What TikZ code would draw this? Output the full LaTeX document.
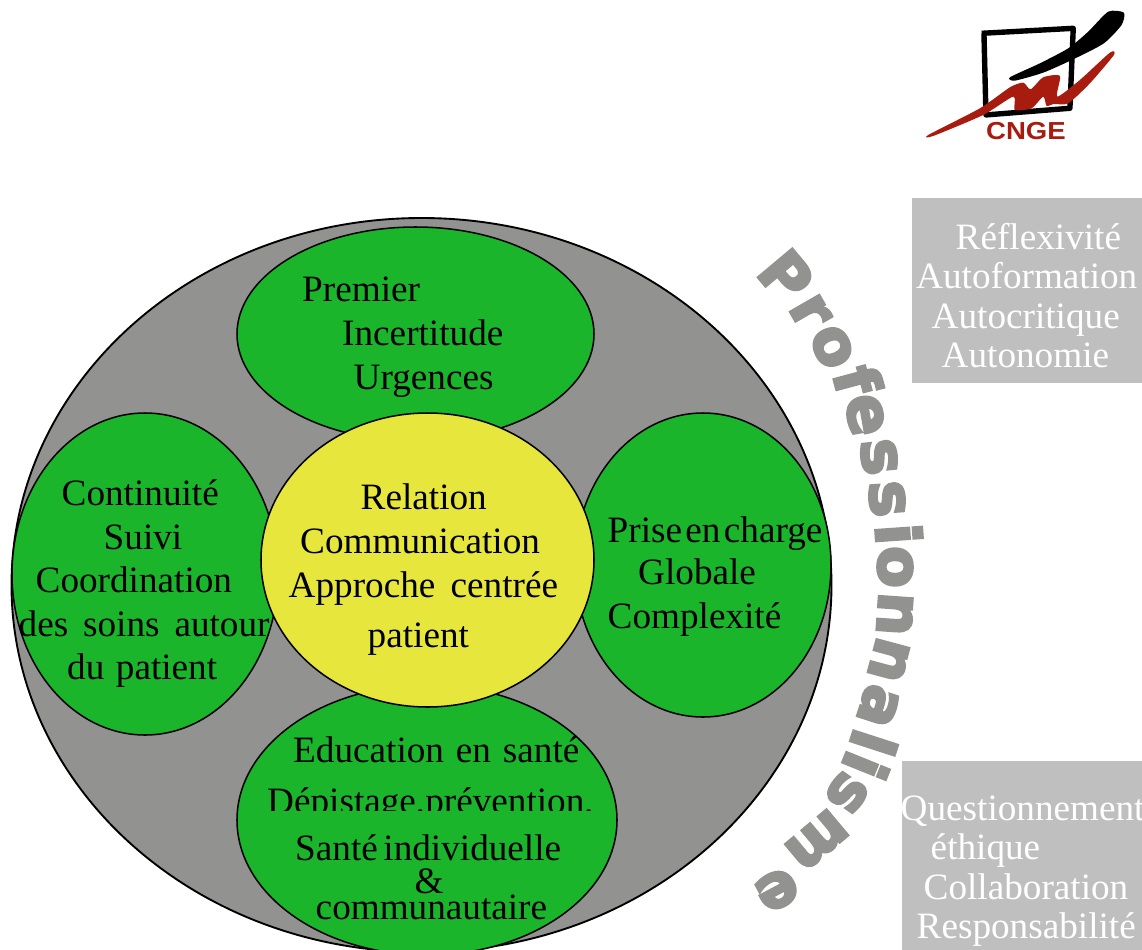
\documentclass[tikz,border=0pt]{standalone}
\usepackage{fontspec}
\setmainfont{Liberation Serif}
\newfontfamily\lettrefont{DejaVu Sans}[BoldFeatures={FakeBold=4.5}]
\newfontfamily\logofont{Liberation Sans}
\definecolor{fond}{HTML}{929290}
\definecolor{vert}{HTML}{1AB52B}
\definecolor{jaune}{HTML}{E6E63C}
\definecolor{boite}{HTML}{BFBFBF}
\definecolor{rouge}{HTML}{A81C10}
\tikzset{
  lbl/.style={anchor=base west,inner sep=0pt,font=\fontsize{31.75}{38}\selectfont},
  boxlbl/.style={lbl,text=white},
  lettre/.style={inner sep=0pt,text=fond,font=\lettrefont\bfseries\fontsize{52}{60}\selectfont},
  rond/.style={draw=black,line width=1.3pt}
}
\begin{document}
\begin{tikzpicture}[x=0.03cm,y=-0.03cm]
\useasboundingbox (0,0) rectangle (1142,950);
\clip (0,0) rectangle (1142,950);
% grand cercle
\draw[rond,fill=fond,line width=1.6pt] (421.5,585) ellipse (410 and 367);
\draw[rond,fill=vert] (415.5,334) ellipse (178.5 and 107);
\draw[rond,fill=vert] (145,574) ellipse (133 and 161);
\draw[rond,fill=vert] (703,565) ellipse (128 and 152);
\draw[rond,fill=vert] (427,820) ellipse (190 and 135);
\draw[rond,fill=jaune] (427.5,560) ellipse (166.5 and 147);
% haut
\node[lbl] (premier) at (302,301) {Premier};
\node[lbl] (incert) at (342,345) {Incertitude};
\node[lbl] (urgences) at (353.5,389) {Urgences};
% gauche
\node[lbl] (contin) at (61.5,505) {Continuité};
\node[lbl] (suivi) at (103.5,549) {Suivi};
\node[lbl] (coord) at (35.5,592) {Coordination};
\node[lbl] (soins) at (18.5,636) {des\hspace{.15em} soins\hspace{.15em} autour};
\node[lbl] (dupat) at (67,679) {du\hspace{.06em} patient};
% centre
\node[lbl] (relation) at (360.5,509) {Relation};
\node[lbl] (commu) at (300,553) {Communication};
\node[lbl] (approche) at (288.5,597) {Approche\hspace{.16em} centrée};
\node[lbl] (patient) at (367.5,647) {patient};
% droite
\node[lbl] (prise) at (607.5,542) {Prise\hspace{-.16em} en\hspace{-.16em} charge};
\node[lbl] (globale) at (638,584) {Globale};
\node[lbl] (complex) at (607.5,628) {Complexité};
% bas
\node[lbl] (educ) at (293,762) {Education\hspace{.07em} en\hspace{.07em} santé};
\begin{scope}
\clip (200,700) rectangle (650,810);
\node[lbl] (depist) at (267,813) {Dépistage,prévention,};
\end{scope}
\node[lbl] (sante) at (295,860) {Santé\hspace{-.1em} individuelle};
\node[lbl] (et) at (414.5,893) {\&};
\node[lbl] (commun) at (315.5,919) {communautaire};
% boites grises
\fill[boite] (912,198) rectangle (1142,383);
\fill[boite] (902,761) rectangle (1142,950);
\node[boxlbl] (reflex) at (955.5,249) {Réflexivité};
\node[boxlbl] (autof) at (916,288) {Autoformation};
\node[boxlbl] (autoc) at (931.5,328) {Autocritique};
\node[boxlbl] (auton) at (941.5,367) {Autonomie};
\node[boxlbl] (quest) at (900.5,820) {Questionnement};
\node[boxlbl] (ethique) at (930.5,859) {éthique};
\node[boxlbl] (collab) at (923.5,899) {Collaboration};
\node[boxlbl] (respons) at (916.5,938) {Responsabilité};
% Professionnalisme
\node[lettre,rotate=-50] (l1) at (786,276) {P};
\node[lettre,rotate=-60] (l2) at (810,312) {r};
\node[lettre,rotate=-66] (l3) at (832,347) {o};
\node[lettre,rotate=-75] (l4) at (858,380) {f};
\node[lettre,rotate=-80] (l5) at (865,415) {e};
\node[lettre,rotate=-84] (l6) at (879,457) {s};
\node[lettre,rotate=-86] (l7) at (887,499) {s};
\node[lettre,rotate=-86] (l8) at (899,534) {i};
\node[lettre,rotate=-90] (l9) at (895,567) {o};
\node[lettre,rotate=-94] (l10) at (895,614) {n};
\node[lettre,rotate=-105] (l11) at (889,660) {n};
\node[lettre,rotate=-108] (l12) at (878,706) {a};
\node[lettre,rotate=-108] (l13) at (874,743) {l};
\node[lettre,rotate=-112] (l14) at (866,766) {i};
\node[lettre,rotate=-125] (l15) at (847,793) {s};
\node[lettre,rotate=-140] (l16) at (817,840) {m};
\node[lettre,rotate=-152] (l17) at (777,890) {e};
% logo
\begin{scope}[shift={(900,0)},x=0.01cm,y=-0.01cm]
\draw[black,line width=4.6pt,line join=round] (245,100) -- (520,85) -- (510,325) -- (258,345) -- (252,100);
\fill[black] plot[smooth cycle,tension=.4] coordinates {(330,232) (420,190) (505,145) (565,95) (625,35) (672,38) (665,75) (612,130) (520,178) (430,218) (345,242)};
\fill[rouge] plot[smooth cycle,tension=.4] coordinates {(85,405) (240,325) (330,262) (370,248) (392,268) (430,232) (480,228) (472,290) (540,240) (630,158) (642,165) (570,250) (505,310) (462,312) (440,318) (430,290) (395,325) (345,330) (340,290) (250,345) (100,408)};
\node[inner sep=0pt,text=rouge,xscale=1.12,font=\logofont\bfseries\fontsize{21}{24}\selectfont] (cnge) at (378,392) {CNGE};
\end{scope}
\end{tikzpicture}
\end{document}
